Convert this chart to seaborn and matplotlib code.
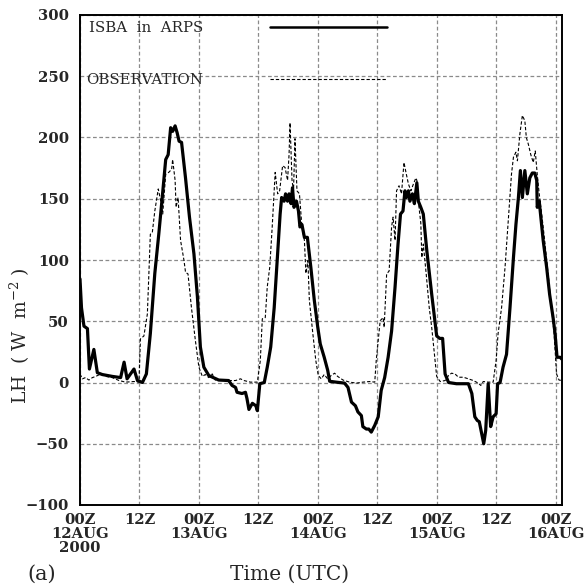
import matplotlib
matplotlib.use("Agg")
import matplotlib.pyplot as plt
import seaborn as sns
import pandas as pd

# ---- data (hours since 00Z 12AUG2000, W m-2) ----
model_hours = [0, 0.3, 0.8, 1.5, 1.9, 2.8, 3.5, 4.5, 6.5, 8.2, 8.9, 9.5, 10.9, 11.6, 12.6, 13.4,
               14.2, 15.1, 15.9, 16.6, 17.3, 17.8, 18.3, 18.7, 19.2, 19.6, 20.0, 20.5, 21.3, 22.1,
               23.0, 23.7, 24.3, 25.0, 26.0, 28.0, 30.0, 30.7, 31.4, 31.7, 32.7, 33.4, 33.7, 34.1,
               34.8, 35.5, 35.8, 36.3, 37.2, 37.8, 38.5, 39.2, 39.9, 40.4, 40.7, 41.2, 41.5, 41.9,
               42.2, 42.6, 42.9, 43.2, 43.7, 44.1, 44.4, 44.8, 45.3, 45.9, 46.6, 47.3, 48.0, 48.5,
               49.3, 50.0, 50.4, 51.7, 53.4, 54.1, 54.8, 55.6, 56.1, 56.8, 57.1, 57.8, 58.3, 58.8,
               59.5, 60.2, 60.8, 61.5, 62.2, 62.9, 63.6, 64.2, 64.7, 65.2, 65.6, 65.9, 66.3, 66.6,
               67.1, 67.5, 68.0, 68.3, 68.8, 69.3, 70.0, 71.0, 72.0, 72.6, 73.2, 73.7, 74.4, 76.0,
               78.4, 79.1, 79.7, 80.2, 80.6, 81.1, 81.5, 81.9, 82.4, 82.9, 83.4, 84.0, 84.3, 84.8,
               85.4, 86.1, 86.8, 87.5, 88.0, 88.5, 88.9, 89.3, 89.8, 90.3, 90.8, 91.3, 91.8, 92.2,
               92.3, 92.7, 93.5, 94.2, 94.8, 95.5, 95.9, 96.3, 96.9, 97.3]
model_lh = [84.5, 61, 46, 44, 11, 27, 8, 6.5, 5, 4, 16.6, 3, 11, 1.6, 0, 7,
            40, 89, 121, 151, 182, 186, 208, 205, 209.5, 204, 197, 196, 167, 135,
            105, 70, 29, 12.5, 5.7, 2, 1.6, -2.4, -4, -8, -9, -8, -13, -22,
            -17, -19, -23, -1, 0, 12.5, 29, 61, 105, 137.5, 151, 148, 154, 148,
            154, 146, 159, 143, 148, 140, 127, 129, 118.5, 118.5, 94, 67, 45, 31.5,
            20.6, 10, 1, 0.3, -0.5, -4, -16, -19, -24, -27, -36, -38, -38, -40.5,
            -35, -28, -6.5, 4, 20.6, 42, 78, 113, 137.5, 140, 156.5, 151, 156.5, 148,
            154, 146, 163, 148, 143, 137.5, 108, 72, 38, 36, 36, 7, 0, -1,
            -1, -9, -28, -31, -32, -42, -50, -39, -1, -36, -28, -25.5, -1, 0,
            12.5, 23, 61, 102, 129, 151, 173, 151, 173, 154, 167, 171, 171, 165,
            143, 148, 116, 94, 72, 53, 40, 20.6, 20.6, 19]

obs_hours = [0, 0.5, 1.1, 1.8, 2.5, 3.2, 4.2, 5.2, 6.5, 7.9, 9.2, 10.9, 11.9, 12.2, 12.9, 13.6,
             14.2, 14.6, 15.1, 15.8, 16.3, 16.7, 17.3, 17.9, 18.5, 18.7, 19.2, 19.4, 19.8, 20.3,
             21.0, 21.3, 21.8, 22.5, 23.3, 24.0, 24.7, 25.3, 26.0, 26.7, 27.3, 29.4, 31.4, 32.4,
             33.1, 34.4, 35.8, 36.4, 36.8, 37.4, 37.8, 38.3, 38.8, 39.4, 39.9, 40.3, 40.9, 41.4,
             41.9, 42.2, 42.4, 42.8, 43.1, 43.4, 43.8, 44.3, 44.8, 45.3, 45.6, 46.0, 46.3, 47.0,
             47.6, 48.1, 48.7, 49.3, 50.0, 50.7, 51.4, 52.0, 53.1, 54.4, 55.8, 57.1, 58.5, 59.5,
             59.8, 60.2, 60.6, 61.2, 61.4, 61.9, 62.4, 62.9, 63.2, 63.6, 63.9, 64.4, 64.9, 65.4,
             65.8, 66.3, 66.8, 67.3, 67.8, 68.0, 68.3, 68.8, 69.0, 69.3, 69.9, 70.5, 71.0, 71.3,
             72.0, 72.7, 73.7, 74.4, 75.0, 75.7, 76.4, 77.4, 78.4, 79.4, 80.4, 80.9, 81.4, 82.4,
             83.4, 84.0, 84.4, 85.1, 85.8, 86.4, 87.1, 87.5, 88.0, 88.3, 88.8, 89.3, 89.8, 90.1,
             90.5, 91.0, 91.5, 91.9, 92.3, 92.7, 93.2, 93.8, 94.5, 95.2, 95.7, 96.2, 96.7, 97.3]
obs_lh = [7, 3, 4, 2, 4, 5, 7, 5, 4, 1.6, 0.3, 0.8, 0.3, 35.6, 38, 56,
          121, 122.5, 140, 158, 148, 137.5, 170, 171.5, 174, 182, 165, 143, 151, 116,
          99.5, 90, 88.6, 61, 34, 12.5, 5, 6.5, 4, 7, 2, 1.6, 1.6, 3,
          1.6, 0.3, 0.3, 18, 52, 53, 78, 94, 127, 171.5, 154, 156.5, 177, 175.5,
          165, 186, 212, 165, 156.5, 199, 156.5, 154, 127, 116, 89, 99.5, 67, 40,
          18, 5.7, 3, 6.5, 3, 5.7, 7.6, 5, 2, 0.3, -0.5, 0.3, 0.8, 0.3,
          18, 34, 50.5, 53, 45, 88.6, 91, 127, 135, 116, 156.5, 160.6, 154, 179.6,
          171.5, 162, 156.5, 162, 167, 165, 148, 130, 102, 113, 88, 61, 45, 33,
          5, 0.8, 1.6, 5.7, 7.6, 7, 4.3, 4.3, 3, 1.6, -0.5, -2.4, 0.8, 0.3,
          0.3, 18, 40, 61, 94, 129, 170, 184, 188, 181, 203, 218, 213.6, 200,
          194.6, 186, 179.6, 189, 170, 154, 137.5, 116, 88.6, 61, 40, 7, 2, 1.6]

x_ticks = [0, 12, 24, 36, 48, 60, 72, 84, 96]
x_tick_labels = ["00Z\n12AUG\n2000", "12Z", "00Z\n13AUG", "12Z", "00Z\n14AUG",
                 "12Z", "00Z\n15AUG", "12Z", "00Z\n16AUG"]
y_ticks = [-100, -50, 0, 50, 100, 150, 200, 250, 300]
series_names = ["ISBA  in  ARPS", "OBSERVATION"]

model_df = pd.DataFrame({"hour": model_hours, "lh": model_lh})
obs_df = pd.DataFrame({"hour": obs_hours, "lh": obs_lh})

sns.set_style("white")
plt.rcParams["font.family"] = ["DejaVu Serif"]
plt.rcParams["mathtext.fontset"] = "dejavuserif"

fig = plt.figure(figsize=(5.86, 5.88), dpi=100)
ax = fig.add_axes([80 / 586, 1 - 505 / 588, 482 / 586, 490 / 588])

sns.lineplot(data=obs_df, x="hour", y="lh", ax=ax, estimator=None, sort=False,
             color="black", linewidth=0.8, linestyle=(0, (3, 1.8)), zorder=3)
sns.lineplot(data=model_df, x="hour", y="lh", ax=ax, estimator=None, sort=False,
             color="black", linewidth=2.3, zorder=4)

ax.set_xlim(0, 97.3)
ax.set_ylim(-100, 300)
ax.set_xticks(x_ticks)
ax.set_xticklabels(x_tick_labels, fontweight="bold", fontsize=10.6, linespacing=0.98)
ax.set_yticks(y_ticks)
ax.set_yticklabels([str(v).replace("-", "\u2212") for v in y_ticks], fontweight="bold",
                   fontsize=10.6)
ax.tick_params(axis="y", direction="out", length=6, width=1, color="black", pad=2)
ax.tick_params(axis="x", length=0, pad=6)

ax.grid(True, color="#8a8a8a", linestyle=(0, (3, 2)), linewidth=0.9)
for s in ax.spines.values():
    s.set_color("black")
    s.set_linewidth(1.4)
ax.set_xlabel("")
ax.set_ylabel("")

# legend-like annotations
ax.text(0.018, 0.9735, series_names[0], transform=ax.transAxes, fontsize=10.8,
        va="center", ha="left")
ax.text(0.012, 0.867, series_names[1], transform=ax.transAxes, fontsize=10.8,
        va="center", ha="left")
ax.plot([0.394, 0.637], [0.9755, 0.9755], transform=ax.transAxes, color="black", lw=1.8)
ax.plot([0.394, 0.637], [0.869, 0.869], transform=ax.transAxes, color="black", lw=0.8,
        linestyle=(0, (3, 1.8)))

fig.text(20 / 586, 1 - 336 / 588, "LH  ( W  m$^{-2}$ )", rotation=90, fontsize=13.5,
         va="center", ha="center")
fig.text(290 / 586, 1 - 574 / 588, "Time (UTC)", fontsize=14.5, va="center", ha="center")
fig.text(27 / 586, 1 - 574 / 588, "(a)", fontsize=15, va="center", ha="left")

fig.savefig("out.png", dpi=100)
